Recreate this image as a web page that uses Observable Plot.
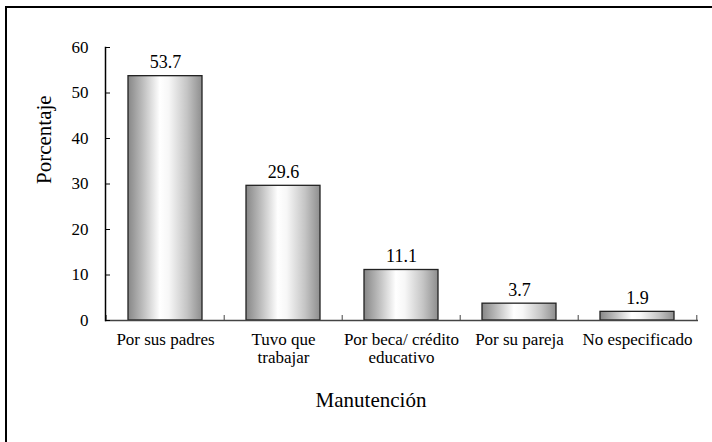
<!DOCTYPE html>
<html><head><meta charset="utf-8">
<script src="https://cdn.jsdelivr.net/npm/d3@7"></script>
<script src="https://cdn.jsdelivr.net/npm/@observablehq/plot@0.6"></script>
<style>
html,body{margin:0;padding:0;background:#fff;overflow:hidden;}
#wrap{position:relative;width:712px;height:442px;overflow:hidden;}
#border{position:absolute;left:5px;top:6px;width:800px;height:600px;border-top:2px solid #000;border-left:2px solid #000;pointer-events:none;}
svg text{font-family:"Liberation Serif","Times New Roman",Times,serif !important;}
</style></head>
<body><div id="wrap"><div id="chart"></div><div id="border"></div></div>
<script>
const categories = ["Por sus padres", "Tuvo que\ntrabajar", "Por beca/ crédito\neducativo", "Por su pareja", "No especificado"];
const values = [53.7, 29.6, 11.1, 3.7, 1.9];
const yTicks = [0, 10, 20, 30, 40, 50, 60];
const xTitle = "Manutención";
const yTitle = "Porcentaje";

const data = categories.map((c, i) => ({cat: c, val: values[i]}));
const W = 712, H = 442, mL = 105, mR = 14, mT = 47, mB = 122;
const plotW = W - mL - mR, plotH = H - mT - mB;
const step = plotW / categories.length;
const serif = '"Liberation Serif","Times New Roman",Times,serif';

const svg = Plot.plot({
  width: W, height: H, marginLeft: mL, marginRight: mR, marginTop: mT, marginBottom: mB,
  style: {fontFamily: serif, fontSize: "17px", color: "#000", background: "#fff"},
  x: {domain: categories, paddingInner: 0.37, paddingOuter: 0.185},
  y: {domain: [0, 60]},
  marks: [
    Plot.barY(data, {x: "cat", y: "val", fill: "url(#barGrad)", stroke: "#222", strokeWidth: 1.3}),
    Plot.ruleY([0], {stroke: "#444", strokeWidth: 1.5}),
    Plot.ruleX(categories, {x: d => d, dx: -step / 2, insetTop: plotH - 5, stroke: "#444"}),
    Plot.ruleX([categories[categories.length - 1]], {x: d => d, dx: step / 2, insetTop: plotH - 5, stroke: "#444"}),
    Plot.frame({anchor: "left", stroke: "#000", strokeWidth: 1.5}),
    Plot.ruleY(yTicks, {y: d => d, insetRight: plotW - 5, stroke: "#000"}),
    Plot.axisY({ticks: yTicks, tickSize: 0, tickPadding: 17, fontSize: 17, fontFamily: serif, tickFormat: d => String(d), label: null}),
    Plot.axisX({tickSize: 0, tickPadding: 11, fontSize: 17, fontFamily: serif, lineHeight: 1.1, label: null}),
    Plot.text(data, {x: "cat", y: "val", text: d => d.val.toFixed(1), dy: -8, lineAnchor: "bottom", fontSize: 18, fontFamily: serif}),
    Plot.text([xTitle], {frameAnchor: "bottom", lineAnchor: "bottom", dy: 86, dx: -31, fontSize: 21, fontFamily: serif}),
    Plot.text([yTitle], {frameAnchor: "left", lineAnchor: "bottom", rotate: -90, dx: -55, fontSize: 21, fontFamily: serif})
  ]
});

const defs = d3.select(svg).insert("defs", ":first-child");
const g = defs.append("linearGradient").attr("id", "barGrad").attr("x1", "0").attr("x2", "1").attr("y1", "0").attr("y2", "0");
[[0, "#878787"], [0.2, "#bdbdbd"], [0.43, "#ffffff"], [0.55, "#f7f7f7"], [0.8, "#c4c4c4"], [1, "#8e8e8e"]]
  .forEach(([o, c]) => g.append("stop").attr("offset", o).attr("stop-color", c));

document.getElementById("chart").appendChild(svg);
</script>
</body></html>
